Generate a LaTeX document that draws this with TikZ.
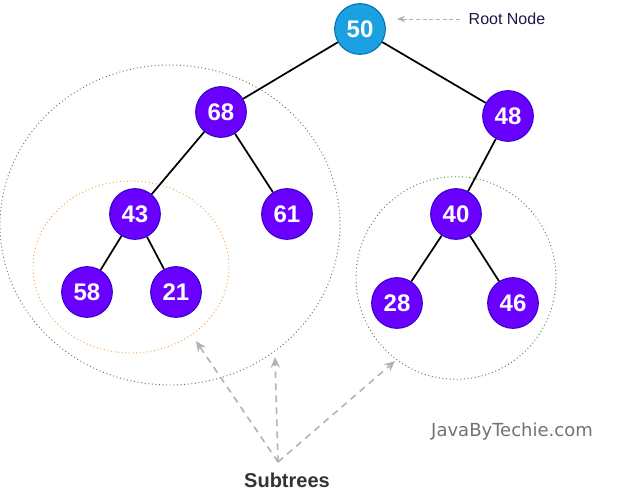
\documentclass[tikz,border=0pt]{standalone}
\usepackage{fontspec}
\setmainfont{Liberation Sans}
\newfontfamily\sitefont{DejaVu Sans}
\usetikzlibrary{shapes.geometric,arrows.meta}
\definecolor{rootbg}{HTML}{1BA1E2}
\definecolor{rootline}{HTML}{006EAF}
\definecolor{treebg}{HTML}{6A00FF}
\definecolor{treeline}{HTML}{3700CC}
\definecolor{subgreen}{HTML}{3E8A2E}
\definecolor{suborange}{HTML}{F0A040}
\definecolor{hintgray}{HTML}{B3B3B3}
\definecolor{rootlabel}{HTML}{1A1A4A}

\tikzset{
  key/.style={circle, draw=treeline, fill=treebg, line width=0.8pt, minimum size=38pt,
    inner sep=0pt, text=white, font=\fontsize{18}{20}\selectfont\bfseries},
  rootkey/.style={key, draw=rootline, fill=rootbg},
  edge/.style={line width=1.3pt},
  subtree/.style={ellipse, dotted, line width=0.7pt, inner sep=0pt},
  hint/.style={hintgray, dashed, line width=1.2pt, dash pattern=on 5pt off 4pt,
    -{Stealth[length=8pt,width=7pt]}}
}

\begin{document}
\begin{tikzpicture}[x=0.75pt, y=-0.75pt]
  \useasboundingbox (0,0) rectangle (621,500);

  % subtree outlines
  \node[subtree, draw=subgreen, minimum width=255pt, minimum height=240pt] (leftsub) at (170,225) {};
  \node[subtree, draw=suborange, minimum width=147pt, minimum height=129pt] (innersub) at (131,267) {};
  \node[subtree, draw=subgreen, minimum width=150pt, minimum height=152pt] (rightsub) at (456,278) {};

  % keys
  \node[rootkey] (n50) at (360,29) {50};
  \node[key] (n68) at (221,112) {68};
  \node[key] (n48) at (508,116) {48};
  \node[key] (n43) at (135,214) {43};
  \node[key] (n61) at (287,214) {61};
  \node[key] (n40) at (456,214) {40};
  \node[key] (n58) at (87,292) {58};
  \node[key] (n21) at (176,292) {21};
  \node[key] (n28) at (397,303) {28};
  \node[key] (n46) at (513,303) {46};

  % links
  \draw[edge] (n50) -- (n68);
  \draw[edge] (n50) -- (n48);
  \draw[edge] (n68) -- (n43);
  \draw[edge] (n68) -- (n61);
  \draw[edge] (n48) -- (n40);
  \draw[edge] (n43) -- (n58);
  \draw[edge] (n43) -- (n21);
  \draw[edge] (n40) -- (n28);
  \draw[edge] (n40) -- (n46);

  % root label
  \node[anchor=west, text=rootlabel, font=\fontsize{12}{14}\selectfont] (rootname) at (464,19) {Root Node};
  \coordinate (roottip) at (397,19);
  \draw[hintgray, line width=0.7pt, dash pattern=on 3pt off 2pt, -{Stealth[length=6pt,width=5pt]},
    shorten <=3pt] (rootname.west) -- (roottip);

  % subtrees label
  \node[text=black!80, font=\fontsize{15}{17}\selectfont\bfseries] (sublabel) at (287,480) {Subtrees};
  \coordinate (src) at (278,462);
  \coordinate (tipa) at (196,341);
  \coordinate (tipb) at (275,357);
  \coordinate (tipc) at (395,361);
  \draw[hint] (src) -- (tipa);
  \draw[hint] (src) -- (tipb);
  \draw[hint] (src) -- (tipc);

  % site mark
  \node[text=black!55, font=\sitefont\fontsize{13.5}{15}\selectfont] (site) at (512,432) {JavaByTechie.com};
\end{tikzpicture}
\end{document}
